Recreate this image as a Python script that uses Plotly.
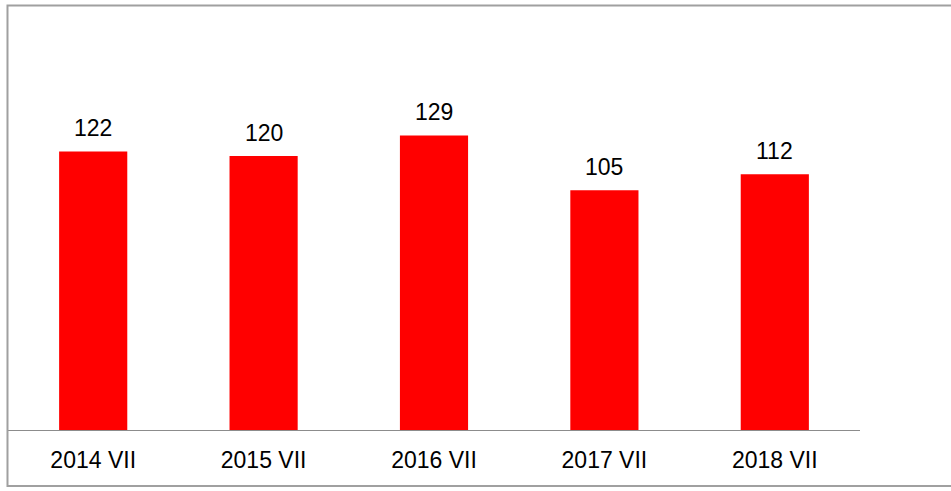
import plotly.graph_objects as go

periods = ["2014 VII", "2015 VII", "2016 VII", "2017 VII", "2018 VII"]
values = [122, 120, 129, 105, 112]

FONT = "Liberation Sans, Arial"

fig = go.Figure()
fig.add_bar(x=periods, y=values, marker_color="#ff0000", marker_line_width=0, width=0.4)

# value labels above each bar
for p, v in zip(periods, values):
    fig.add_annotation(x=p, y=v, text=str(v), showarrow=False, yanchor="middle", yshift=23,
                       font=dict(family=FONT, size=23, color="#000000"))

# frame around the chart (no right edge visible)
fig.add_shape(type="path", xref="paper", yref="paper",
              path="M 1.2,1.033 L -0.0006,1.033 L -0.0006,-0.136 L 1.2,-0.136",
              line=dict(color="#a0a0a0", width=2))

fig.update_layout(
    width=951, height=491,
    margin=dict(l=8, r=91, t=19, b=61),
    paper_bgcolor="white", plot_bgcolor="white",
    showlegend=False,
    font=dict(family=FONT, size=23, color="#000000"),
)
fig.update_xaxes(showline=True, linecolor="#8c8c8c", linewidth=1, ticks="",
                 tickfont=dict(size=23), ticklabelstandoff=9, showgrid=False)
fig.update_yaxes(range=[0, 180], visible=False, showgrid=False)

fig.write_html("out.html", config={"displayModeBar": False},
               post_script="document.body.style.margin = '0';")
